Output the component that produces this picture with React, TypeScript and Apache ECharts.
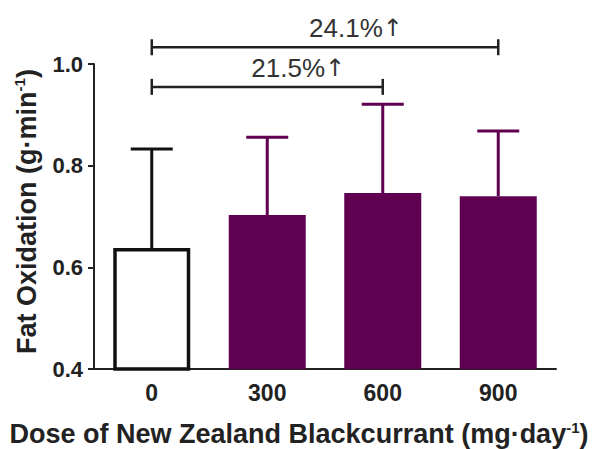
import React, { useEffect, useRef } from "react";
import * as echarts from "echarts";

const categories = ["0", "300", "600", "900"];
const means = [0.638, 0.703, 0.746, 0.74];
const upperSD = [0.833, 0.856, 0.921, 0.868];
const yTicks = [0.4, 0.6, 0.8, 1.0];
const bracketFrom = [0, 0];
const bracketTo = [3, 2];
const bracketLevel = [1.033, 0.955];
const bracketLabels = ["24.1%", "21.5%"];

const PURPLE = "#600050";
const barFill = ["#ffffff", PURPLE, PURPLE, PURPLE];
const barBorder = ["#111111", PURPLE, PURPLE, PURPLE];
const errColor = ["#111111", PURPLE, PURPLE, PURPLE];
const FONT = "Liberation Sans, Arial, sans-serif";

export default function App() {
  const ref = useRef<HTMLDivElement>(null);
  useEffect(() => {
    if (!ref.current) return;
    const chart = echarts.init(ref.current, undefined, { renderer: "svg" });
    chart.setOption({
      animation: false,
      grid: { left: 94, right: 41, top: 64, bottom: 80, containLabel: false, outerBoundsMode: "none" },
      xAxis: {
        type: "category",
        data: categories,
        axisLine: { lineStyle: { color: "#222", width: 2 } },
        axisTick: { alignWithLabel: true, length: 6, lineStyle: { color: "#222", width: 2 } },
        axisLabel: { color: "#222", fontSize: 23, fontWeight: "bold", fontFamily: FONT, margin: 12 },
        name: "{b|Dose of New Zealand Blackcurrant (mg\u00b7day}{s|-1}{b|)}",
        nameLocation: "middle",
        nameGap: 51,
        nameTextStyle: {
          padding: [0, 52, 0, 0],
          rich: {
            b: { fontSize: 27, fontWeight: "bold", fontFamily: FONT, color: "#222", lineHeight: 28 },
            s: { fontSize: 15, fontWeight: "bold", fontFamily: FONT, color: "#222", verticalAlign: "top", lineHeight: 28 },
          },
        },
      },
      yAxis: {
        type: "value",
        min: yTicks[0],
        max: yTicks[yTicks.length - 1],
        interval: 0.2,
        splitLine: { show: false },
        axisLine: { show: true, lineStyle: { color: "#222", width: 2 } },
        axisTick: { show: true, length: 6, lineStyle: { color: "#222", width: 2 } },
        axisLabel: {
          color: "#222",
          fontSize: 22,
          fontWeight: "bold",
          fontFamily: FONT,
          margin: 11,
          formatter: (v: number) => v.toFixed(1),
        },
        name: "{b|Fat Oxidation (g\u00b7min}{s|-1}{b|)}",
        nameLocation: "middle",
        nameRotate: 90,
        nameGap: 52,
        nameTextStyle: {
          padding: [0, 0, 0, 10],
          rich: {
            b: { fontSize: 27, fontWeight: "bold", fontFamily: FONT, color: "#222", lineHeight: 30 },
            s: { fontSize: 15, fontWeight: "bold", fontFamily: FONT, color: "#222", verticalAlign: "top", lineHeight: 30 },
          },
        },
      },
      series: [
        {
          type: "bar",
          barWidth: 77,
          data: means.map((v, i) => ({
            value: v,
            itemStyle: { color: barFill[i], borderColor: barBorder[i], borderWidth: i === 0 ? 3.5 : 0 },
          })),
          z: 2,
        },
        {
          type: "custom",
          z: 3,
          clip: false,
          encode: { x: 0, y: [1, 2] },
          data: means.map((m, i) => [i, m, upperSD[i]]),
          renderItem: (params: any, api: any) => {
            const i = params.dataIndex;
            const base = api.coord([api.value(0), api.value(1)]);
            const top = api.coord([api.value(0), api.value(2)]);
            const st = { stroke: errColor[i], lineWidth: 3 };
            return {
              type: "group",
              children: [
                { type: "line", shape: { x1: base[0], y1: base[1], x2: top[0], y2: top[1] }, style: st },
                { type: "line", shape: { x1: top[0] - 21, y1: top[1], x2: top[0] + 21, y2: top[1] }, style: st },
              ],
            };
          },
        },
        {
          type: "custom",
          z: 4,
          clip: false,
          encode: { x: [0, 1], y: 2 },
          data: bracketFrom.map((f, i) => [f, bracketTo[i], bracketLevel[i]]),
          renderItem: (params: any, api: any) => {
            const i = params.dataIndex;
            const a = api.coord([api.value(0), api.value(2)]);
            const b = api.coord([api.value(1), api.value(2)]);
            const st = { stroke: "#222", lineWidth: 2.5 };
            const cx = (a[0] + b[0]) / 2 + 31;
            return {
              type: "group",
              children: [
                { type: "line", shape: { x1: a[0], y1: a[1], x2: b[0], y2: b[1] }, style: st },
                { type: "line", shape: { x1: a[0], y1: a[1] - 8, x2: a[0], y2: a[1] + 8 }, style: st },
                { type: "line", shape: { x1: b[0], y1: b[1] - 8, x2: b[0], y2: b[1] + 8 }, style: st },
                {
                  type: "text",
                  style: {
                    text: "{n|" + bracketLabels[i] + "}{a|\u2191}",
                    x: cx,
                    y: a[1] - 5,
                    align: "center",
                    verticalAlign: "bottom",
                    rich: {
                      n: { fontSize: 26, fontFamily: FONT, fill: "#333", color: "#333", lineHeight: 28 },
                      a: { fontSize: 24, fontFamily: "DejaVu Sans, sans-serif", fill: "#333", color: "#333", lineHeight: 28 },
                    },
                  },
                },
              ],
            };
          },
        },
      ],
    });
    return () => chart.dispose();
  }, []);
  return <div ref={ref} style={{ width: 597, height: 449, position: "absolute", left: 0, top: 0 }} />;
}
